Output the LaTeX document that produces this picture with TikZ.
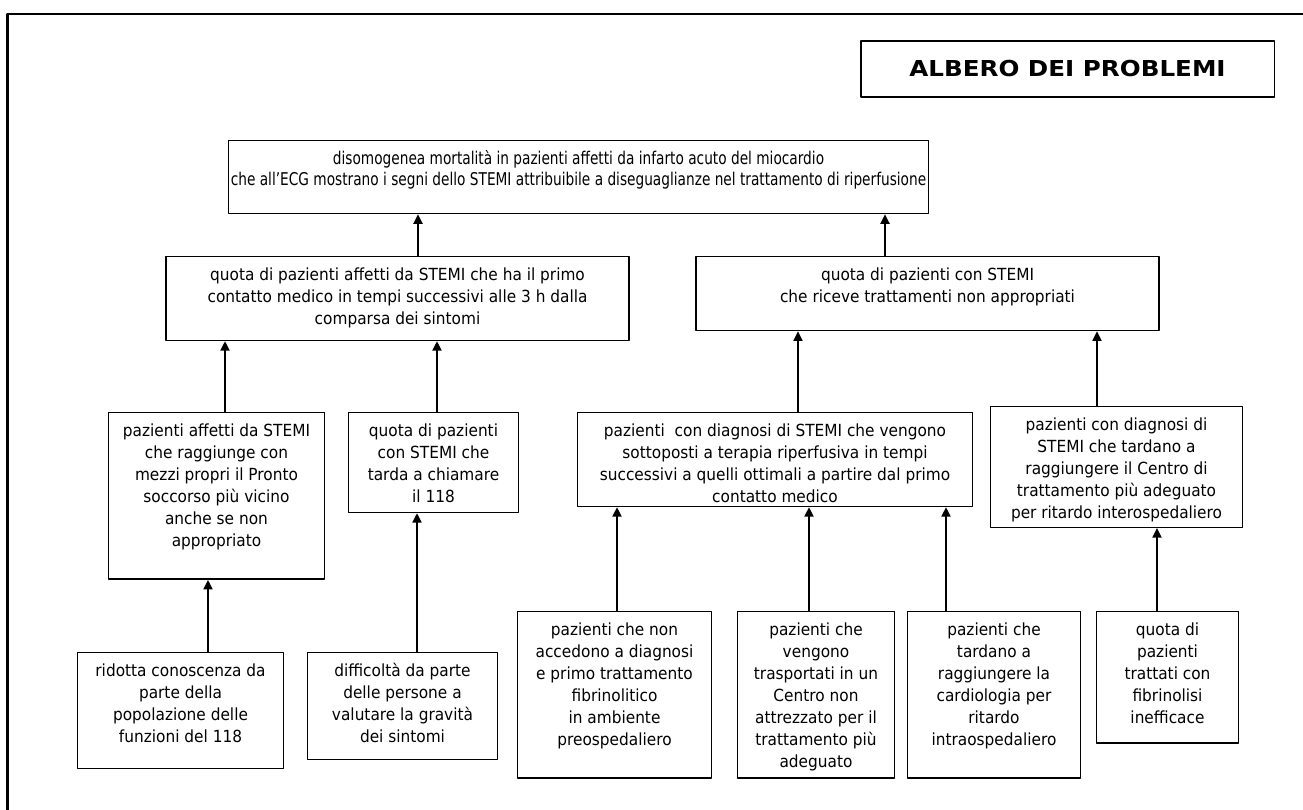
\documentclass[tikz,border=0pt]{standalone}
\usepackage{fontspec}
\setmainfont{DejaVu Sans}[FakeStretch=0.92]
\newfontfamily\centralfont{DejaVu Sans}[FakeStretch=0.78]
\newfontfamily\titlefont{DejaVu Sans}[FakeStretch=1.12]
\usetikzlibrary{arrows.meta,positioning}

% righe centrate, allineate in alto
\newcommand{\righe}[1]{\begin{tabular}[t]{@{}c@{}}#1\end{tabular}}

\tikzset{
  prob/.style={draw, line width=0.8pt, anchor=north,
    inner xsep=0pt, inner ysep=0pt, text height=13.6pt,
    font=\fontsize{9.5}{12.5}\selectfont},
  link/.style={-{Triangle[length=5.5pt,width=5pt]}, line width=1.4pt},
}

\begin{document}
\begin{tikzpicture}[x=0.02cm, y=-0.02cm, line join=round]
  \useasboundingbox (0,0) rectangle (1303,810);
  % cornice
  \draw[line width=1.4pt] (7.5,810) -- (7.5,14) -- (1303,14);

  % titolo
  \node[draw, line width=0.8pt, minimum width=235.3pt, minimum height=31.7pt,
    font=\titlefont\bfseries\fontsize{12.5}{14}\selectfont] (titolo) at (1067.5,69) {ALBERO DEI PROBLEMI};

  % problema centrale
  \node[prob, minimum width=398.5pt, text depth=27.8pt, font=\centralfont] (centrale) at (578.5,140)
    {\righe{disomogenea mortalità in pazienti affetti da infarto acuto del miocardio\\
     che all’ECG mostrano i segni dello STEMI attribuibile a diseguaglianze nel trattamento di riperfusione}};

  % secondo livello
  \node[prob, minimum width=263.6pt, text depth=34pt] (quotaTempi) at (397.5,256)
    {\righe{quota di pazienti affetti da STEMI che ha il primo\\
     contatto medico in tempi successivi alle 3 h dalla\\
     comparsa dei sintomi}};
  \node[prob, minimum width=263.6pt, text depth=28.4pt] (quotaTratt) at (927.5,256)
    {\righe{quota di pazienti con STEMI\\
     che riceve trattamenti non appropriati}};

  % terzo livello
  \node[prob, minimum width=123pt, text depth=81.1pt] (mezziPropri) at (216.5,412)
    {\righe{pazienti affetti da STEMI\\che raggiunge con\\mezzi propri il Pronto\\soccorso più vicino\\anche se non\\appropriato}};
  \node[prob, minimum width=96.9pt, text depth=43.1pt] (chiamata) at (433.5,412)
    {\righe{quota di pazienti\\con STEMI che\\tarda a chiamare\\il 118}};
  \node[prob, minimum width=224.5pt, text depth=39.7pt] (terapiaTardi) at (775,412)
    {\righe{pazienti\ \ con diagnosi di STEMI che vengono\\sottoposti a terapia riperfusiva in tempi\\successivi a quelli ottimali a partire dal primo\\contatto medico}};
  \node[prob, minimum width=143.4pt, text depth=55pt] (ritardoInter) at (1116.5,406)
    {\righe{pazienti con diagnosi di\\STEMI che tardano a\\raggiungere il Centro di\\trattamento più adeguato\\per ritardo interospedaliero}};

  % quarto livello
  \node[prob, minimum width=117.3pt, text depth=52.2pt] (conoscenza) at (180.5,652)
    {\righe{ridotta conoscenza da\\parte della\\popolazione delle\\funzioni del 118}};
  \node[prob, minimum width=108.3pt, text depth=47.1pt] (gravita) at (402.5,652)
    {\righe{difficoltà da parte\\delle persone a\\valutare la gravità\\dei sintomi}};
  \node[prob, minimum width=110.5pt, text depth=81.1pt] (noDiagnosi) at (614.5,611)
    {\righe{pazienti che non\\accedono a diagnosi\\e primo trattamento\\fibrinolitico\\in ambiente\\preospedaliero}};
  \node[prob, minimum width=89.6pt, text depth=81.1pt] (centroNo) at (816,611)
    {\righe{pazienti che\\vengono\\trasportati in un\\Centro non\\attrezzato per il\\trattamento più\\adeguato}};
  \node[prob, minimum width=98.6pt, text depth=81.1pt] (ritardoIntra) at (994,611)
    {\righe{pazienti che\\tardano a\\raggiungere la\\cardiologia per\\ritardo\\intraospedaliero}};
  \node[prob, minimum width=81.1pt, text depth=61.2pt] (fibrinolisi) at (1167.5,611)
    {\righe{quota di\\pazienti\\trattati con\\fibrinolisi\\inefficace}};

  % frecce
  \draw[link] (quotaTempi.north -| 418,0) -- (centrale.south -| 418,0);
  \draw[link] (quotaTratt.north -| 885,0) -- (centrale.south -| 885,0);
  \draw[link] (mezziPropri.north -| 225,0) -- (quotaTempi.south -| 225,0);
  \draw[link] (chiamata.north -| 437,0) -- (quotaTempi.south -| 437,0);
  \draw[link] (terapiaTardi.north -| 798,0) -- (quotaTratt.south -| 798,0);
  \draw[link] (ritardoInter.north -| 1097,0) -- (quotaTratt.south -| 1097,0);
  \draw[link] (conoscenza.north -| 208,0) -- (mezziPropri.south -| 208,0);
  \draw[link] (gravita.north -| 417,0) -- (chiamata.south -| 417,0);
  \draw[link] (noDiagnosi.north -| 617,0) -- (terapiaTardi.south -| 617,0);
  \draw[link] (centroNo.north -| 809,0) -- (terapiaTardi.south -| 809,0);
  \draw[link] (ritardoIntra.north -| 946,0) -- (terapiaTardi.south -| 946,0);
  \draw[link] (fibrinolisi.north -| 1157,0) -- (ritardoInter.south -| 1157,0);
\end{tikzpicture}
\end{document}
